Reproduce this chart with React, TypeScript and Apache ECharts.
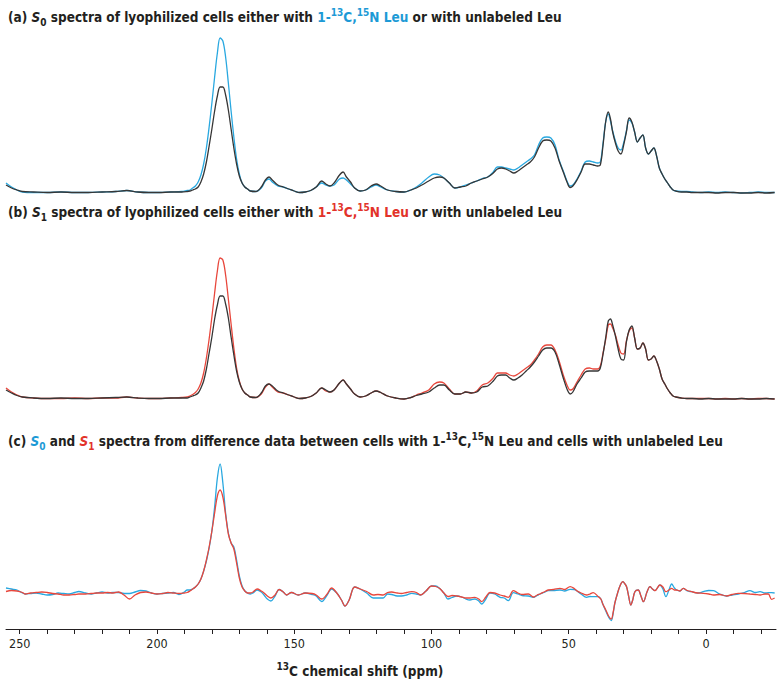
import React, { useEffect, useRef } from "react";
import * as echarts from "echarts";

// ---------- data (ppm, intensity) ----------
const ppmAB = [
  255, 253, 251, 249, 245, 240, 235, 230, 225, 220,
  215, 211, 207, 203, 199, 195, 191, 189, 188, 187,
  186, 185, 184, 183, 182, 181, 180, 179, 178, 177,
  176, 175, 174, 173, 172, 171, 170, 169, 168, 167,
  166, 164, 162, 160.5, 159.2, 158, 156, 154, 152, 150,
  148, 146, 144, 142, 140, 138.5, 137, 135.5, 133.5, 132.2,
  131, 129.5, 128, 126, 124, 122, 120.2, 118.5, 116, 113,
  110, 107.5, 105.5, 103.5, 101, 99, 97, 95.5, 93.5, 91.5,
  89.5, 87.5, 85.5, 83.5, 81.5, 79.5, 77.5, 76, 74.5, 73,
  71.5, 70, 68.5, 67, 65.5, 64, 62.5, 61, 59.5, 58,
  56.5, 55, 53.5, 52, 50.5, 49.5, 48.5, 47, 45.5, 44,
  42.5, 41, 39.5, 38.5, 37.5, 36.5, 35.6, 34.8, 34, 33,
  32, 31, 30, 29, 28, 27, 26, 25, 24, 23,
  22, 21, 20, 19, 18, 17, 16, 15, 14, 13,
  12, 11, 9, 7, 5, 2, -1, -4, -7, -10,
  -13, -16, -19, -22, -25,
];

// (a) S0, labeled (cyan)
const s0A = [
  10, 6, 3, 1, 0.5, 0.5, 1, 0.5, 0.5, 1,
  1.5, 2.5, 1, 0.5, 0.5, 1, 1.5, 2.5, 3, 5,
  7, 11, 18, 29, 45, 66, 90, 116, 140, 155,
  152, 136, 110, 82, 56, 34, 19, 10, 6, 4,
  2, 1.5, 5, 12, 14, 11, 7, 6, 4, 2,
  0.5, 1, 2.5, 6, 10, 8, 7, 8, 14, 15,
  13, 9, 5, 2, 3, 6, 8, 6, 3, 1.5,
  1, 3, 6, 10, 16, 19, 18, 15, 10, 5,
  6, 8, 10, 12, 14.5, 16, 21, 26, 26, 25,
  24, 23, 25, 28, 31, 34, 38, 48, 55, 56,
  55, 48, 33, 22, 11, 7, 8, 14, 22, 31,
  32, 31, 30, 31, 50, 72, 79, 72, 62, 52,
  45, 43, 50, 62, 73, 70, 61, 51, 55, 58,
  45, 39, 42, 45, 37, 25, 19, 14, 10, 6,
  3, 2, 1.5, 1.5, 1, 0.5, 1, 0.5, 1, 0.5,
  0, 0.5, 1, 0.5, 0.5,
];

// (a) unlabeled (black)
const refA = [
  8, 5, 3, 1.5, 1, 0.5, 1, 0.5, 0.5, 1,
  1.5, 2.5, 1, 0.5, 0.5, 1, 1, 1.5, 2, 3,
  4, 6, 11, 19, 31, 47, 64, 82, 97, 106,
  106, 98, 83, 64, 45, 29, 17, 10, 6, 4,
  2, 1.5, 6, 13, 16, 13, 8, 6, 4, 2,
  0.5, 1, 2.5, 6, 12, 9, 7, 10, 18, 21,
  16, 11, 5, 2, 3, 7, 9, 7, 3, 1.5,
  1, 3, 5, 8, 12, 15, 16, 15, 10, 5,
  6, 7, 10, 12, 14, 16, 20, 24, 25, 24,
  22, 20, 22, 25, 28, 31, 36, 45, 52, 53,
  52, 45, 32, 21, 10, 5.5, 7, 13, 21, 29,
  29, 28, 27, 28, 48, 72, 81, 74, 61, 50,
  42, 39, 48, 61, 75, 71, 61, 51, 55, 58,
  45, 39, 42, 45, 37, 25, 19, 14, 10, 6,
  3, 2, 1, 1, 0.5, 0.5, 0.5, 0, 0.5, 0.5,
  0, 0, 0.5, 0, 0.5,
];

// (b) S1, labeled (red)
const s1B = [
  11, 7, 4, 2, 1, 0.5, 0.5, 1, 0.5, 1,
  1, 2, 1, 0.5, 0.5, 1, 1.5, 2, 3, 4.5,
  6.5, 10, 16, 26, 41, 60, 82, 106, 128, 141,
  139, 124, 100, 75, 51, 31, 18, 10, 6, 4,
  2, 1.5, 5, 12, 15, 12, 7, 6, 4, 2,
  0.5, 1, 2.5, 6, 11, 8, 7, 9, 16, 19,
  15, 10, 5, 2, 3, 6, 8, 6.5, 3, 1,
  0, 1.5, 4, 6, 9, 15, 17, 16, 10, 5,
  5, 7, 6, 8, 14, 16, 21, 26, 26, 26,
  24, 23, 25, 28, 31, 34, 39, 45, 52, 54,
  54, 49, 38, 24, 13, 9, 10, 17, 24, 30,
  31, 30, 30, 33, 46, 60, 74, 75, 71, 64,
  54, 46, 45, 58, 68, 71, 61, 50, 51, 56,
  50, 39, 40, 43, 38, 30, 20, 15, 10, 6,
  3, 2, 1, 0.5, 0.5, 0.5, 0.5, 0, 0.5, 0,
  0.5, 0, 0.5, 0.5, 0,
];

// (b) unlabeled (black)
const refB = [
  9, 6, 3.5, 2, 1, 0.5, 1, 0.5, 0.5, 1,
  1.5, 2, 1, 0.5, 0.5, 1, 1, 1, 2, 3,
  4, 6, 11, 18, 30, 46, 62, 80, 94, 103,
  103, 95, 81, 62, 44, 28, 17, 10, 6, 4,
  2, 1.5, 6, 13, 15, 13, 8, 6, 4, 2,
  0.5, 1, 2.5, 6, 11, 9, 7, 9, 16, 19,
  15, 10, 5, 2, 3, 6, 8, 6.5, 3, 1,
  0, 1.5, 3.5, 5, 7, 11, 14, 14, 9, 5,
  5, 7, 6, 7, 12, 13, 18, 23, 24, 24,
  21, 19, 21, 24, 28, 32, 37, 43, 49, 51,
  51, 47, 35, 21, 9, 5, 7, 15, 21, 27,
  28, 28, 28, 31, 45, 62, 78, 80, 74, 63,
  50, 40, 39, 57, 69, 73, 61, 50, 51, 56,
  50, 39, 40, 43, 38, 30, 20, 15, 10, 6,
  3, 2, 1, 0.5, 0.5, 0, 0.5, 0, 0, 0,
  0.5, 0, 0, 0.5, 0,
];

const ppmC = [
  255, 253, 251, 249, 248, 246, 244, 242, 240, 238,
  236, 234, 232, 230, 228.5, 226, 224, 222, 220, 218,
  216, 214, 212, 210, 208, 206, 204, 202, 200, 198,
  196, 194, 192, 190, 189, 188, 187, 186, 185, 184,
  183, 182, 181, 180, 179, 178, 177, 176, 175, 174,
  173, 172, 171, 170, 169, 168, 167, 166, 165, 163.5,
  162, 161, 159.8, 158.5, 157, 155.5, 154, 152.8, 151, 148.5,
  146, 143.5, 142, 140, 138, 136.4, 134.5, 132.8, 131.5, 130,
  128, 126, 123.6, 121.2, 119.5, 117.6, 116, 114.5, 112.5, 111,
  109, 107.2, 105.5, 104, 102, 100, 98.5, 97, 95.5, 94,
  92.5, 90.8, 89, 87.5, 86, 84.2, 82.8, 81.7, 80.2, 78.7,
  77, 75, 73.5, 72, 70.2, 68.5, 67, 64.7, 62.9, 61.5,
  60.5, 59, 57.5, 55.5, 53.2, 51.5, 49.5, 48, 47.1, 45.5,
  43.5, 42.3, 41.1, 39.2, 38.3, 37.6, 36.5, 35.5, 34.5, 33.8,
  33.2, 32.2, 31.2, 30.3, 29.5, 28.9, 28.2, 27.4, 26.7, 25.9,
  24.7, 23.7, 22.8, 21.5, 20.4, 19.5, 18.6, 16.8, 15.7, 14.6,
  13.5, 12.5, 11.5, 10.7, 9.5, 8.3, 6.8, 5.2, 3, 1,
  -1, -2.7, -5, -7.5, -9.5, -11.8, -14, -16, -18, -19.7,
  -21.5, -22.7, -23.9, -25,
];

// (c) S0 difference (cyan)
const s0C = [
  5, 4, 3, 0, -1, -0.5, 0, -1, -2, -1.5,
  0, -0.5, -1, 0.5, 1.5, 0, -1, 0, 1, 0,
  0.5, 0.5, -0.5, -0.5, 1, 2.5, 2, 0, -1, -0.5,
  0, 0.5, -1.5, 1, 3, 3, 4, 6, 9, 14,
  22, 32, 45, 62, 86, 115, 129, 110, 80, 60,
  50, 46, 33, 17, 7, 2, 0, -1, 0, 3,
  1, -2, -6, -8, -3, 3.5, 1, -2, 0.5, -2,
  0, -1.5, -3, -8.5, -2, 4, 0, -7, -13, -7,
  6, 4, 0, -5, -5, -5, -1, -1.5, -3, -3,
  -2, -0.3, -1, -2, 2, 7, 7, 4.5, 0, -6,
  -4.5, -3, -4, -6, -7, -6, -8, -11, -6, 0,
  -1, -4.3, -5, -7.7, 0.3, -1, -2.5, -3, -4.3, -2.5,
  -1, 0.5, 2.3, 2.5, 3, 2, 3.7, 3.5, 2.3, -1,
  -4.3, -3.5, -3.7, -3.7, -6, -11, -18, -24, -27.5, -20,
  -10, 0, 8, 11.3, 9, 6, -3, -12, -7, 1.3,
  3, -3, -8.7, 1, 6.3, 4, 2.3, 8, 4, -3.7,
  3, 9, 5, 3, 2, 4.7, 2, 1.3, 0, 1.3,
  2.5, 2.3, -1, -3, -2, -1, 0.5, 2.3, 0.5, 1.3,
  0, 0.3, 0.3, 0,
];

// (c) S1 difference (red)
const s1C = [
  1.5, 2.5, 2, 0.5, -1, 0, 0.5, 1, 0.5, -0.5,
  -1, -2, -2, -1.5, -1, -1, -0.5, 0, 0, 0.5,
  0, 1, -2, -6, -2, 0.5, 1, 0, -1, -0.5,
  0.5, 0, -0.5, 0, 0.5, 2, 4, 6, 9, 14,
  22, 33, 46, 62, 80, 97, 103, 96, 78, 59,
  50, 44, 30, 15, 6, 2, 0, 0, 1, 4,
  2, 0, -3, -5, -2, 3.5, 1, -2, 0.5, -2,
  0, -0.5, -2, -6, -1, 5, 0, -7, -13, -7,
  6, 4, 1.5, -2, -1.5, -2, 0.5, 1, 0, -0.5,
  0.5, 1.3, 0.5, -2, 2, 7, 6.5, 4.5, 0, -3.5,
  -2.5, -3, -4, -5, -5, -4.3, -6, -8.7, -4, 0.5,
  0, -2, -3, -4.3, 2.3, 0, -1.5, -1, -4, -2,
  -1, 1, 3, 3.5, 4.7, 3.5, 6.3, 4.5, 2.3, 0,
  -2, -1, 0.3, -3.7, -6, -11, -17, -23, -26, -19,
  -10, 0, 8, 11.3, 9, 6, -3, -12, -7, 1.3,
  3, -3, -8.7, 1, 6.3, 4, 2.3, 8, 6, 1.3,
  3, 4.7, 3, 3, 2, 4.7, 2.5, 1.3, 0, -0.3,
  -1, -2, -1.5, -3, -1.5, -0.3, -0.5, -1, -1.5, -2,
  -1, -1, -6.3, -5,
];

const tickValues = [250, 240, 230, 220, 210, 200, 190, 180, 170, 160, 150, 140, 130, 120, 110, 100, 90, 80, 70, 60, 50, 40, 30, 20, 10, 0, -10, -20];
const labelValues = [250, 200, 150, 100, 50, 0];

// ---------- styles ----------
const FONT = "'Liberation Sans Narrow', 'DejaVu Sans Condensed', 'Liberation Sans', Arial, sans-serif";
const CYAN = "#29a8e0";
const BLACK = "#363636";
const RED = "#e8473c";
const CYAN_T = "#1d9ad6";
const RED_T = "#e2332a";
const TXT = "#231f20";

const pairs = (xs: number[], ys: number[]) => xs.map((x, i) => [x, ys[i]]);

const FS = 13.5;
const SS = 10;
const LH = 20;
const richStyles = {
  n: { fontSize: FS, fontWeight: "bold", fontFamily: FONT, fill: TXT, lineHeight: LH },
  i: { fontSize: FS, fontWeight: "bold", fontStyle: "italic", fontFamily: FONT, fill: TXT, lineHeight: LH },
  ic: { fontSize: FS, fontWeight: "bold", fontStyle: "italic", fontFamily: FONT, fill: CYAN_T, lineHeight: LH },
  ir: { fontSize: FS, fontWeight: "bold", fontStyle: "italic", fontFamily: FONT, fill: RED_T, lineHeight: LH },
  sub: { fontSize: SS, fontWeight: "bold", fontFamily: FONT, fill: TXT, lineHeight: 13, verticalAlign: "bottom" },
  subc: { fontSize: SS, fontWeight: "bold", fontFamily: FONT, fill: CYAN_T, lineHeight: 13, verticalAlign: "bottom" },
  subr: { fontSize: SS, fontWeight: "bold", fontFamily: FONT, fill: RED_T, lineHeight: 13, verticalAlign: "bottom" },
  c: { fontSize: FS, fontWeight: "bold", fontFamily: FONT, fill: CYAN_T, lineHeight: LH },
  r: { fontSize: FS, fontWeight: "bold", fontFamily: FONT, fill: RED_T, lineHeight: LH },
  sup: { fontSize: SS, fontWeight: "bold", fontFamily: FONT, fill: TXT, lineHeight: 10, verticalAlign: "top" },
  supc: { fontSize: SS, fontWeight: "bold", fontFamily: FONT, fill: CYAN_T, lineHeight: 10, verticalAlign: "top" },
  supr: { fontSize: SS, fontWeight: "bold", fontFamily: FONT, fill: RED_T, lineHeight: 10, verticalAlign: "top" },
};

const titleA =
  "{n|(a) }{i|S}{sub|0}{n| spectra of lyophilized cells either with }{c|1-}{supc|13}{c|C,}{supc|15}{c|N Leu}{n| or with unlabeled Leu}";
const titleB =
  "{n|(b) }{i|S}{sub|1}{n| spectra of lyophilized cells either with }{r|1-}{supr|13}{r|C,}{supr|15}{r|N Leu}{n| or with unlabeled Leu}";
const titleC =
  "{n|(c) }{ic|S}{subc|0}{n| and }{ir|S}{subr|1}{n| spectra from difference data between cells with 1-}{sup|13}{n|C,}{sup|15}{n|N Leu and cells with unlabeled Leu}";
const axisTitle = "{sup|13}{n|C chemical shift (ppm)}";

function textEl(text: string, x: number, y: number, align = "left") {
  return {
    type: "text",
    x,
    y,
    silent: true,
    style: { text, rich: richStyles, align, verticalAlign: "middle" },
  };
}

function lineSeries(name: string, xi: number, xs: number[], ys: number[], color: string) {
  return {
    name,
    type: "line",
    xAxisIndex: xi,
    yAxisIndex: xi,
    data: pairs(xs, ys),
    showSymbol: false,
    smooth: 0.35,
    lineStyle: { color, width: 1.3 },
    itemStyle: { color },
    silent: true,
  };
}

export default function App() {
  const ref = useRef<HTMLDivElement>(null);
  useEffect(() => {
    if (!ref.current) return;
    const chart = echarts.init(ref.current, undefined, { renderer: "svg" });
    const hiddenX = (gi: number) => ({
      type: "value",
      gridIndex: gi,
      min: -25.5,
      max: 255,
      inverse: true,
      show: false,
    });
    const option = {
      animation: false,
      backgroundColor: "#ffffff",
      grid: [
        { left: 6, right: 3, top: 28, height: 175 },
        { left: 6, right: 3, top: 249, height: 160 },
        { left: 6, right: 3, top: 453, height: 176 },
      ],
      xAxis: [
        hiddenX(0),
        hiddenX(1),
        {
          type: "value",
          gridIndex: 2,
          min: -25.5,
          max: 255,
          inverse: true,
          axisLine: { show: true, onZero: false, lineStyle: { color: TXT, width: 1 } },
          axisTick: { show: true, length: 5, customValues: tickValues, lineStyle: { color: TXT, width: 1 } },
          axisLabel: { customValues: labelValues, fontSize: 12.5, margin: 8, color: TXT, fontFamily: FONT },
          splitLine: { show: false },
        },
      ],
      yAxis: [
        { type: "value", gridIndex: 0, min: -10, max: 165, show: false },
        { type: "value", gridIndex: 1, min: -10, max: 150, show: false },
        { type: "value", gridIndex: 2, min: -36, max: 140, show: false },
      ],
      graphic: [
        textEl(titleA, 8, 17),
        textEl(titleB, 8, 212),
        textEl(titleC, 8, 441),
        textEl(axisTitle, 360, 671, "center"),
      ],
      series: [
        lineSeries("S0 labeled", 0, ppmAB, s0A, CYAN),
        lineSeries("unlabeled (a)", 0, ppmAB, refA, BLACK),
        lineSeries("S1 labeled", 1, ppmAB, s1B, RED),
        lineSeries("unlabeled (b)", 1, ppmAB, refB, BLACK),
        lineSeries("S0 difference", 2, ppmC, s0C, CYAN),
        lineSeries("S1 difference", 2, ppmC, s1C, RED),
      ],
    };
    chart.setOption(option as any);
    return () => chart.dispose();
  }, []);
  return (
    <div
      ref={ref}
      style={{ position: "fixed", left: 0, top: 0, width: 779, height: 686, background: "#fff" }}
    />
  );
}
